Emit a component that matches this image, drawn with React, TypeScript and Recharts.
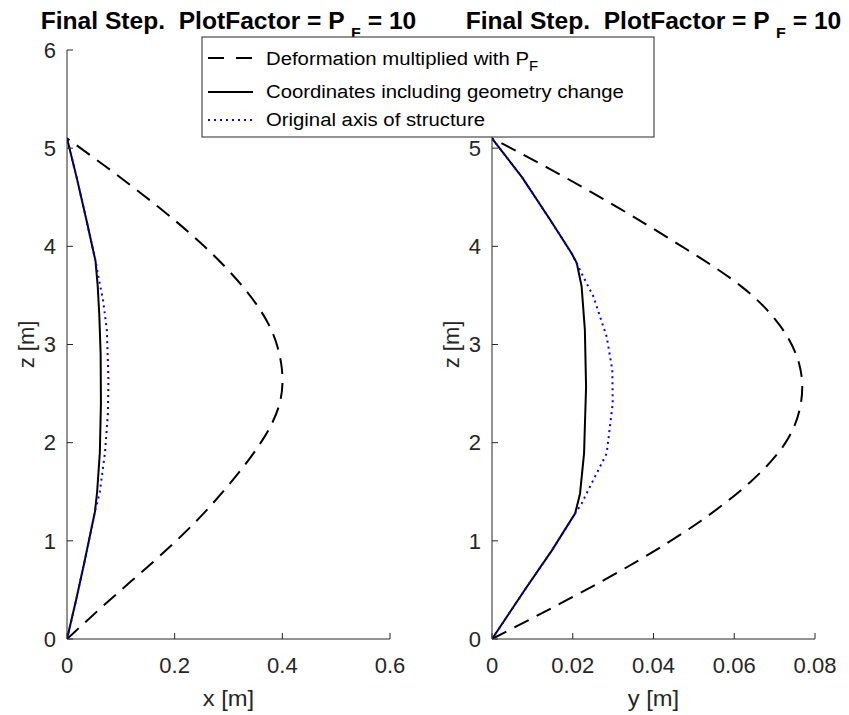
import React from 'react';
import { LineChart, Line, XAxis, YAxis } from 'recharts';

// ---------- data ----------
const zTicks = [0, 1, 2, 3, 4, 5, 6];
const xTicksLeft = [0, 0.2, 0.4, 0.6];
const yTicksRight = [0, 0.02, 0.04, 0.06, 0.08];

// Left panel (x vs z)
const leftDashedZ = [0, 0.4, 0.8, 1.2, 1.6, 2.0, 2.4, 2.8, 3.2, 3.6, 4.0, 4.4, 4.8, 5.1];
const leftDashedX = [0, 0.08, 0.163, 0.24, 0.305, 0.36, 0.395, 0.398, 0.375, 0.325, 0.255, 0.17, 0.075, 0];

const leftSolidZ = [0, 0.4, 0.8, 1.3, 1.5, 1.9, 2.4, 2.9, 3.3, 3.6, 3.85, 4.27, 4.7, 5.1];
const leftSolidX = [0, 0.017, 0.033, 0.052, 0.056, 0.061, 0.063, 0.0625, 0.06, 0.057, 0.053, 0.036, 0.018, 0];

const leftDottedZ = [0, 0.4, 0.8, 1.3, 1.5, 1.9, 2.3, 2.64, 3.15, 3.45, 3.7, 3.85, 4.27, 4.7, 5.1];
const leftDottedX = [0, 0.017, 0.033, 0.052, 0.061, 0.0706, 0.076, 0.077, 0.074, 0.067, 0.058, 0.053, 0.036, 0.018, 0];

// Right panel (y vs z)
const rightDashedZ = [0, 0.4, 0.8, 1.2, 1.6, 2.0, 2.4, 2.8, 3.2, 3.6, 4.0, 4.4, 4.8, 5.1];
const rightDashedY = [0, 0.0187, 0.0363, 0.0516, 0.064, 0.0727, 0.0765, 0.0761, 0.0712, 0.0615, 0.047, 0.031, 0.0138, 0];

const rightSolidZ = [0, 0.53, 0.9, 1.28, 1.48, 1.89, 2.57, 3.15, 3.59, 3.83, 3.93, 4.27, 4.7, 5.1];
const rightSolidY = [0, 0.0086, 0.0148, 0.0206, 0.0218, 0.0228, 0.0233, 0.023, 0.0222, 0.021, 0.0197, 0.0144, 0.0075, 0];

const rightDottedZ = [0, 0.53, 0.9, 1.28, 1.38, 1.62, 1.89, 2.4, 2.74, 3.08, 3.49, 3.79, 3.93, 4.27, 4.7, 5.1];
const rightDottedY = [0, 0.0086, 0.0148, 0.0206, 0.0222, 0.0251, 0.0284, 0.0299, 0.0298, 0.0284, 0.0251, 0.0214, 0.0197, 0.0144, 0.0075, 0];

const titleText = 'Final Step.  PlotFactor = P ';
const legendLabels = ['Deformation multiplied with P', 'Coordinates including geometry change', 'Original axis of structure'];

// ---------- helpers ----------
const zip = (xs: number[], zs: number[]) => xs.map((x, i) => ({ x, z: zs[i] }));

const FONT = '"Liberation Sans", Arial, Helvetica, sans-serif';
const AX = '#262626';
const tickStyle = { fontSize: 22, fill: AX, fontFamily: FONT };
// horizontal stretch of text about an anchor x
const stretch = (x0: number, k: number) => `matrix(${k},0,0,1,${x0 * (1 - k)},0)`;

type PanelProps = {
  left: number;
  max: number;
  ticks: number[];
  dashed: { x: number; z: number }[];
  solid: { x: number; z: number }[];
  dotted: { x: number; z: number }[];
};

function Panel({ left, max, ticks, dashed, solid, dotted }: PanelProps) {
  return (
    <div style={{ position: 'absolute', left, top: 0 }}>
      <LineChart width={420} height={715} margin={{ top: 50, right: 30, bottom: 0, left: 0 }}>
        <XAxis
          xAxisId="b"
          type="number"
          dataKey="x"
          domain={[0, max]}
          ticks={ticks}
          orientation="bottom"
          height={76}
          tickSize={-6}
          tickMargin={24}
          stroke={AX}
          tick={tickStyle}
          interval={0}
          allowDataOverflow
        />
        <XAxis
          xAxisId="t"
          type="number"
          dataKey="x"
          domain={[0, max]}
          ticks={ticks}
          orientation="top"
          height={0}
          tickSize={-6}
          stroke={AX}
          tick={false}
          interval={0}
          allowDataOverflow
        />
        <YAxis
          yAxisId="l"
          type="number"
          dataKey="z"
          domain={[0, 6]}
          ticks={zTicks}
          width={67}
          tickSize={-6}
          tickMargin={17}
          stroke={AX}
          tick={tickStyle}
          interval={0}
          allowDataOverflow
        />
        <YAxis
          yAxisId="r"
          type="number"
          dataKey="z"
          orientation="right"
          domain={[0, 6]}
          ticks={zTicks}
          width={0}
          tickSize={-6}
          stroke={AX}
          tick={false}
          interval={0}
          allowDataOverflow
        />
        <Line
          xAxisId="b"
          yAxisId="l"
          data={dashed}
          dataKey="z"
          type="natural"
          stroke="#000"
          strokeWidth={2}
          strokeDasharray="16 9"
          dot={false}
          isAnimationActive={false}
        />
        <Line
          xAxisId="b"
          yAxisId="l"
          data={solid}
          dataKey="z"
          type="linear"
          stroke="#000"
          strokeWidth={2}
          dot={false}
          isAnimationActive={false}
        />
        <Line
          xAxisId="b"
          yAxisId="l"
          data={dotted}
          dataKey="z"
          type="linear"
          stroke="#0000ff"
          strokeWidth={2}
          strokeDasharray="2 4"
          dot={false}
          isAnimationActive={false}
        />
      </LineChart>
    </div>
  );
}

function Title({ cx }: { cx: number }) {
  return (
    <text
      x={cx}
      y={29}
      textAnchor="middle"
      fontWeight="bold"
      fontSize={23}
      fill="#000"
      style={{ whiteSpace: 'pre' }}
      transform={stretch(cx, 1.07)}
    >
      {titleText}
      <tspan dy={9} fontSize={15}>F</tspan>
      <tspan dy={-9}>{' = 10'}</tspan>
    </text>
  );
}

export default function App() {
  const lx = 266;
  const lk = 1.07;
  return (
    <div style={{ position: 'absolute', left: 0, top: 0, width: 849, height: 715, background: '#fff', fontFamily: FONT }}>
      <Panel
        left={0}
        max={0.6}
        ticks={xTicksLeft}
        dashed={zip(leftDashedX, leftDashedZ)}
        solid={zip(leftSolidX, leftSolidZ)}
        dotted={zip(leftDottedX, leftDottedZ)}
      />
      <Panel
        left={425}
        max={0.08}
        ticks={yTicksRight}
        dashed={zip(rightDashedY, rightDashedZ)}
        solid={zip(rightSolidY, rightSolidZ)}
        dotted={zip(rightDottedY, rightDottedZ)}
      />
      <svg width={849} height={715} style={{ position: 'absolute', left: 0, top: 0, pointerEvents: 'none', fontFamily: FONT }}>
        <Title cx={228.5} />
        <Title cx={653.5} />
        <text x={228.5} y={706} textAnchor="middle" fontSize={22} fill={AX} transform={stretch(228.5, 1.08)}>x [m]</text>
        <text x={653.5} y={706} textAnchor="middle" fontSize={22} fill={AX} transform={stretch(653.5, 1.08)}>y [m]</text>
        <text x={34} y={344.5} textAnchor="middle" fontSize={22} fill={AX} transform="rotate(-90 34 344.5)">z [m]</text>
        <text x={459} y={344.5} textAnchor="middle" fontSize={22} fill={AX} transform="rotate(-90 459 344.5)">z [m]</text>
        <g>
          <rect x={202} y={37} width={452} height={100} fill="#fff" stroke={AX} strokeWidth={1} />
          <line x1={208} y1={58} x2={253} y2={58} stroke="#000" strokeWidth={2} strokeDasharray="16 12" />
          <line x1={208} y1={92} x2={253} y2={92} stroke="#000" strokeWidth={2} />
          <line x1={208} y1={120} x2={253} y2={120} stroke="#0000ff" strokeWidth={2} strokeDasharray="2 4" />
          <text x={lx} y={65} fontSize={19} fill="#000" transform={stretch(lx, lk)}>
            {legendLabels[0]}
            <tspan dy={6} fontSize={14}>F</tspan>
          </text>
          <text x={lx} y={98} fontSize={19} fill="#000" transform={stretch(lx, lk)}>{legendLabels[1]}</text>
          <text x={lx} y={126} fontSize={19} fill="#000" transform={stretch(lx, lk)}>{legendLabels[2]}</text>
        </g>
      </svg>
    </div>
  );
}
